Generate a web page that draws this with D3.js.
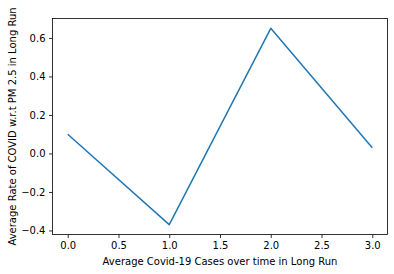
<!DOCTYPE html>
<html>
<head>
<meta charset="utf-8">
<script src="https://cdn.jsdelivr.net/npm/d3@7"></script>
<style>
  body { margin: 0; background: #fff; }
  svg text { font-family: "DejaVu Sans", sans-serif; fill: #000; }
</style>
</head>
<body>
<div id="chart"></div>
<script>
// data
var xValues = [0, 1, 2, 3];
var rateValues = [0.10, -0.37, 0.65, 0.03];
var xTicks = [0, 0.5, 1, 1.5, 2, 2.5, 3];
var yTicks = [-0.4, -0.2, 0.0, 0.2, 0.4, 0.6];
var xLabel = 'Average Covid-19 Cases over time in Long Run';
var yLabel = 'Average Rate of COVID w.r.t PM 2.5 in Long Run';

const width = 394;
const height = 274;
const margin = { left: 52.5, top: 18.5, right: 6.5, bottom: 39.5 };
const innerW = width - margin.left - margin.right;
const innerH = height - margin.top - margin.bottom;

// matplotlib style 5% padding on both axes
function padded(vals) {
  var lo = d3.min(vals), hi = d3.max(vals), pad = (hi - lo) * 0.05;
  return [lo - pad, hi + pad];
}

const x = d3.scaleLinear().domain(padded(xValues)).range([0, innerW]);
const y = d3.scaleLinear().domain(padded(rateValues)).range([innerH, 0]);

const svg = d3.select('#chart')
  .append('svg')
  .attr('width', width)
  .attr('height', height);

const g = svg.append('g')
  .attr('transform', 'translate(' + margin.left + ',' + margin.top + ')');

const points = xValues.map((d, i) => ({ x: d, y: rateValues[i] }));

g.append('path')
  .datum(points)
  .attr('fill', 'none')
  .attr('stroke', '#1f77b4')
  .attr('stroke-width', 1.5)
  .attr('stroke-linejoin', 'round')
  .attr('d', d3.line().x(d => x(d.x)).y(d => y(d.y)));

// axes
const xAxis = g.append('g')
  .attr('transform', 'translate(0,' + innerH + ')')
  .call(d3.axisBottom(x).tickValues(xTicks).tickFormat(d3.format('.1f'))
    .tickSize(3.5).tickPadding(3.5).tickSizeOuter(0));

const yAxis = g.append('g')
  .call(d3.axisLeft(y).tickValues(yTicks)
    .tickFormat(d => d3.format('.1f')(d).replace('-', '\u2212'))
    .tickSize(3.5).tickPadding(3.5).tickSizeOuter(0));

[xAxis, yAxis].forEach(a => {
  a.select('.domain').remove();
  a.selectAll('line').attr('stroke', '#000').attr('stroke-width', 0.8);
  a.selectAll('text').attr('font-size', 10).attr('fill', '#000');
});

// frame
g.append('rect')
  .attr('width', innerW)
  .attr('height', innerH)
  .attr('fill', 'none')
  .attr('stroke', '#000')
  .attr('stroke-width', 0.8);

// axis titles
svg.append('text')
  .attr('x', margin.left + innerW / 2)
  .attr('y', 265)
  .attr('text-anchor', 'middle')
  .attr('font-size', 10)
  .text(xLabel);

svg.append('text')
  .attr('transform', 'translate(15.5,' + (margin.top + innerH / 2) + ') rotate(-90)')
  .attr('text-anchor', 'middle')
  .attr('font-size', 10)
  .text(yLabel);
</script>
</body>
</html>
